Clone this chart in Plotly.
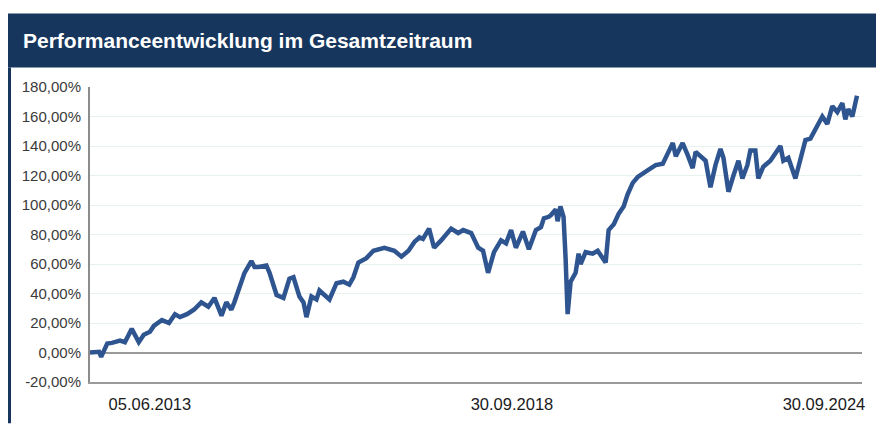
import plotly.graph_objects as go

dates = [
    "2013-06-05", "2013-07-24", "2013-08-04", "2013-09-06", "2013-10-01", "2013-11-14", "2013-12-10",
    "2014-01-16", "2014-02-23", "2014-03-22", "2014-04-24", "2014-05-15", "2014-06-28", "2014-08-05",
    "2014-09-06", "2014-10-03", "2014-11-10", "2014-12-17", "2015-01-26", "2015-03-05", "2015-04-07",
    "2015-05-15", "2015-06-10", "2015-07-07", "2015-07-23", "2015-08-20", "2015-09-16", "2015-10-23",
    "2015-11-09", "2015-11-30", "2016-01-12", "2016-01-29", "2016-03-07", "2016-04-13", "2016-05-15",
    "2016-06-06", "2016-07-08", "2016-07-30", "2016-08-15", "2016-09-11", "2016-10-08", "2016-10-24",
    "2016-11-20", "2016-12-17", "2017-01-24", "2017-03-02", "2017-04-03", "2017-04-25", "2017-05-22",
    "2017-07-04", "2017-08-11", "2017-10-09", "2017-12-02", "2018-01-09", "2018-02-16", "2018-03-20",
    "2018-04-16", "2018-05-05", "2018-06-07", "2018-07-04", "2018-08-11", "2018-10-04", "2018-11-11",
    "2018-12-08", "2019-01-20", "2019-02-27", "2019-03-25", "2019-04-21", "2019-05-23", "2019-06-30",
    "2019-07-27", "2019-08-23", "2019-09-18", "2019-10-26", "2019-11-27", "2020-01-04", "2020-01-31",
    "2020-02-16", "2020-03-13", "2020-03-24", "2020-04-20", "2020-04-30", "2020-05-15", "2020-06-01",
    "2020-06-12", "2020-06-23", "2020-07-09", "2020-08-05", "2020-08-21", "2020-09-01", "2020-09-28",
    "2020-11-05", "2020-12-02", "2020-12-29", "2021-01-14", "2021-01-30", "2021-02-27", "2021-03-25",
    "2021-04-21", "2021-05-12", "2021-06-09", "2021-07-06", "2021-08-07", "2021-09-03", "2021-10-11",
    "2021-11-18", "2021-12-15", "2022-01-11", "2022-01-27", "2022-03-05", "2022-04-01", "2022-04-28",
    "2022-05-14", "2022-06-10", "2022-07-07", "2022-07-17", "2022-08-02", "2022-08-29", "2022-09-25",
    "2022-10-11", "2022-11-07", "2022-12-04", "2022-12-31", "2023-01-21", "2023-02-17", "2023-03-05",
    "2023-04-01", "2023-04-17", "2023-05-14", "2023-06-21", "2023-07-18", "2023-08-14", "2023-08-30",
    "2023-09-26", "2023-11-03", "2023-11-30", "2023-12-27", "2024-01-23", "2024-02-19", "2024-03-27",
    "2024-04-23", "2024-05-20", "2024-06-16", "2024-07-13", "2024-07-29", "2024-08-14", "2024-09-05",
    "2024-09-30",
]

performance = [
    0, 0.5, -3, 6, 6.5, 8, 7,
    16, 7, 12, 14, 18, 22, 20,
    26, 24, 26, 29, 34, 31, 37,
    25, 34, 29, 34, 44, 54, 62,
    58, 58, 59, 54, 39, 37, 50,
    51, 38, 34, 24, 38, 36, 42,
    39, 36, 47, 48, 46, 51, 61,
    64, 69, 71, 69, 65, 69, 75,
    78, 77, 84, 71, 76, 84, 81,
    83, 81, 71, 69, 54, 68, 76,
    74, 83, 71, 82, 70, 83, 85,
    91, 92, 93, 97, 89, 99, 92,
    64, 26, 48, 54, 67, 60, 68,
    67, 69, 64, 61, 83, 87, 94,
    99, 107, 115, 119, 122, 124, 127,
    128, 135, 142, 133, 142, 134, 125,
    136, 133, 130, 123, 112, 127, 138,
    132, 109, 120, 130, 118, 127, 137,
    137, 118, 126, 130, 135, 140, 130,
    132, 118, 132, 144, 145, 152, 160,
    155, 167, 163, 169, 158, 165, 160,
    174,
]

y_tick_values = [-20, 0, 20, 40, 60, 80, 100, 120, 140, 160, 180]
y_tick_labels = ["-20,00%", "0,00%", "20,00%", "40,00%", "60,00%", "80,00%",
                 "100,00%", "120,00%", "140,00%", "160,00%", "180,00%"]

x_tick_positions = ["2014-04-24", "2019-08-28", "2024-04-05"]
x_tick_labels = ["05.06.2013", "30.09.2018", "30.09.2024"]

header_title = "Performanceentwicklung im Gesamtzeitraum"

NAVY = "#17365d"
FONT = "Liberation Sans, Arial, Helvetica, sans-serif"

fig = go.Figure()
fig.add_trace(go.Scatter(
    x=dates, y=performance, mode="lines",
    line=dict(color="#2f5591", width=4.5),
    hoverinfo="skip", showlegend=False,
))

# the page body has an 8px default margin; the figure is sized to fit the window
OFF = 8
W, H = 884 - OFF, 425 - OFF
L, T = 90 - OFF, 87 - OFF
R = W - (862 - OFF)
B = H - (388 - OFF)
pw, ph = W - L - R, H - T - B

def px_x(p):  # p in screen pixels
    return (p - OFF - L) / pw

def px_y(p):
    return 1 - (p - OFF - T) / ph

fig.update_layout(
    width=W, height=H,
    margin=dict(l=L, r=R, t=T, b=B),
    paper_bgcolor="white", plot_bgcolor="white",
    font=dict(family=FONT),
    showlegend=False,
    shapes=[
        dict(type="rect", xref="paper", yref="paper",
             x0=px_x(8), x1=px_x(884), y0=px_y(67), y1=px_y(12),
             fillcolor=NAVY, line=dict(width=0), layer="below"),
        dict(type="line", xref="paper", yref="paper",
             x0=px_x(9.5), x1=px_x(9.5), y0=px_y(67), y1=px_y(430),
             line=dict(color=NAVY, width=3)),
    ],
    annotations=[
        dict(text="<b>" + header_title + "</b>", xref="paper", yref="paper",
             x=px_x(21), y=px_y(40), xanchor="left", yanchor="middle",
             showarrow=False, font=dict(color="white", size=21, family=FONT)),
    ],
)

fig.update_xaxes(
    type="date",
    range=["2013-06-05", "2024-10-27"],
    tickmode="array", tickvals=x_tick_positions, ticktext=x_tick_labels,
    showgrid=False, zeroline=False,
    showline=True, linecolor="#9a9a9a", linewidth=2,
    ticks="", ticklabelstandoff=6,
    tickfont=dict(size=16.5, color="#1a1a1a"),
)

fig.update_yaxes(
    range=[-20, 180],
    tickmode="array", tickvals=y_tick_values, ticktext=y_tick_labels,
    showgrid=True, gridcolor="#e8f2ec", gridwidth=1,
    zeroline=True, zerolinecolor="#9a9a9a", zerolinewidth=2,
    showline=True, linecolor="#8c8c8c", linewidth=2,
    ticks="", ticklabelstandoff=4,
    tickfont=dict(size=15, color="#3a3a3a"),
)

fig.write_html("out.html")
